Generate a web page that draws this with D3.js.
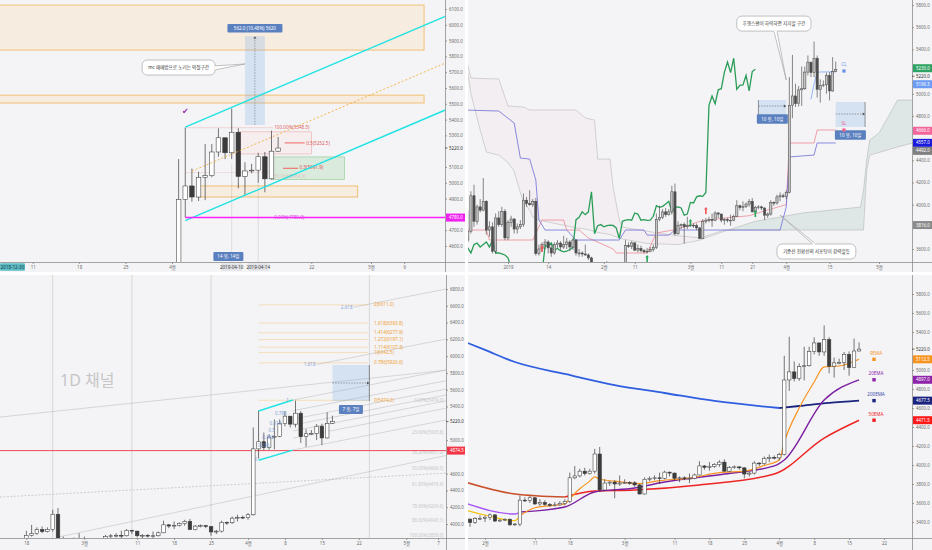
<!DOCTYPE html>
<html>
<head>
<meta charset="utf-8">
<title>BTC 4 panels</title>
<script src="https://cdn.jsdelivr.net/npm/d3@7/dist/d3.min.js"></script>
<style>
  html, body { margin: 0; padding: 0; background: #ffffff; }
  svg { display: block; }
</style>
</head>
<body>
<svg id="chart" width="932" height="550"></svg>
<script>
// daily candles, [open, high, low, close], one row per day from the block start
var dec2018 = [
  [3680,3950,3660,3760],[3760,4120,3740,4080],[4080,4180,3800,3850],[3850,4000,3820,3980],
  [3980,4050,3930,3950],[3950,4240,3940,4030],[4030,4040,3730,3770],[3770,3850,3710,3800],
  [3800,3840,3560,3580],[3580,3920,3560,3880],[3880,3940,3800,3820],[3820,3980,3800,3940],
  [3940,3960,3680,3700]
];
var jan2019 = [
  [3700,3860,3680,3840],[3840,3900,3800,3870],[3870,3880,3740,3780],[3780,3830,3740,3800],
  [3800,3860,3780,3820],[3820,4100,3800,4040],[4040,4070,3980,4010],[4010,4130,3990,4000],
  [4000,4050,3980,4030],[4030,4060,3540,3560],[3560,3640,3540,3600],[3600,3660,3580,3640],
  [3640,3690,3600,3663],[3663,3680,3560,3610],[3610,3640,3530,3564],[3564,3660,3550,3640],
  [3640,3680,3610,3654],[3654,3670,3590,3618],[3618,3720,3600,3640],[3640,3700,3600,3663],
  [3663,3680,3580,3618],[3618,3700,3590,3681],[3681,3690,3540,3564],[3564,3600,3530,3564],
  [3564,3580,3530,3555],[3555,3640,3540,3546],[3546,3560,3500,3520],[3520,3530,3400,3430],
  [3430,3440,3350,3395],[3395,3450,3380,3435],[3435,3470,3420,3438]
];
var feb2019 = [
  [3438,3470,3400,3450],[3450,3490,3420,3475],[3475,3480,3400,3410],[3410,3430,3400,3420],
  [3420,3440,3410,3428],[3428,3440,3360,3370],[3370,3390,3360,3378],[3378,3680,3355,3630],
  [3630,3660,3610,3625],[3625,3670,3600,3655],[3655,3660,3580,3590],[3590,3640,3570,3605],
  [3605,3630,3570,3585],[3585,3600,3560,3575],[3575,3610,3560,3580],[3580,3620,3570,3595],
  [3595,3640,3575,3615],[3615,3920,3600,3865],[3865,3990,3850,3885],[3885,3960,3870,3935],
  [3935,3970,3890,3910],[3910,3960,3900,3935],[3935,4170,3910,4116],[4116,4190,3720,3737],
  [3737,3850,3730,3810],[3810,3830,3780,3820],[3820,3840,3650,3800],[3800,3890,3780,3810]
];
var mar2019 = [
  [3810,3850,3800,3815],[3815,3830,3790,3812],[3812,3830,3770,3790],[3790,3800,3690,3695],
  [3695,3870,3690,3850],[3850,3880,3830,3860],[3860,3890,3840,3865],[3865,3920,3800,3860],
  [3860,3940,3850,3925],[3925,3930,3880,3915],[3915,3920,3840,3860],[3860,3880,3820,3865],
  [3865,3880,3840,3858],[3858,3910,3810,3860],[3860,3910,3850,3895],[3895,4040,3890,3990],
  [3990,4000,3950,3975],[3975,4030,3940,3985],[3985,4020,3970,4005],[4005,4050,3980,4030],
  [4030,4060,3930,3935],[3935,3990,3925,3975],[3975,3995,3960,3980],[3980,3990,3950,3970],
  [3970,3975,3860,3905],[3905,3930,3880,3915],[3915,4040,3900,4020],[4020,4030,3990,4015],
  [4015,4090,4000,4070],[4070,4110,4030,4080],[4080,4100,4060,4075]
];
var apr2019 = [
  [4075,4130,4050,4110],[4110,5150,4100,4895],[4895,5350,4780,4980],[4980,5090,4880,4910],
  [4910,5070,4885,5035],[5035,5245,4890,5045],[5045,5245,5035,5195],[5195,5345,5165,5285],
  [5285,5285,5150,5190],[5190,5470,5150,5320],[5320,5345,4965,5040],[5040,5130,4920,5075],
  [5075,5120,5060,5080],[5080,5190,5000,5165],[5165,5195,4940,5025],[5025,5330,5020,5200],
  [5200,5290,5195,5220]
];
var candleBlocks = [["2018-12-19", dec2018], ["2019-01-01", jan2019], ["2019-02-01", feb2019],
                    ["2019-03-01", mar2019], ["2019-04-01", apr2019]];

// price axis ticks and last-value tags
var tlPriceTicks = [4600,4700,4800,4900,5000,5100,5200,5300,5400,5500,5600,5700,5800,5900,6000,6100];
var trPriceTicks = [3600,3800,4000,4200,4400,4600,4800,5000,5200,5400,5600,5800];
var blPriceTicks = [4000,4200,4400,4600,4800,5000,5200,5400,5600,5800,6000,6200,6400,6600,6800];
var brPriceTicks = [3400,3600,3800,4000,4200,4400,4600,4800,5000,5200,5400,5600,5800];
var tlTagValues = [5220, 4780];
var trTagValues = [5230, 5220, 5196.5, 4666, 4557, 4492, 3816];
var blTagValues = [5220, 4874.5];
var brTagValues = [5220, 5112.5, 4897, 4677.5, 4471.5];

// time axis ticks
var tlTimeTicks = ["2019-03-11","2019-03-18","2019-03-25","2019-04-01","2019-04-22","2019-05-01","2019-05-06"];
var tlTimeLabels = ["11","18","25","4월","22","5월","6"];
var trTimeTicks = ["2019-01-01","2019-01-14","2019-02-01","2019-02-11","2019-03-01","2019-03-11","2019-03-21","2019-04-01","2019-04-15","2019-05-01"];
var trTimeLabels = ["2019","14","2월","11","3월","11","21","4월","15","5월"];
var blTimeTicks = ["2019-02-18","2019-03-01","2019-03-11","2019-03-18","2019-03-25","2019-04-01","2019-04-08","2019-04-15","2019-04-22","2019-05-01","2019-05-07"];
var blTimeLabels = ["18","3월","11","18","25","4월","8","15","22","5월","7"];
var brTimeTicks = ["2019-02-01","2019-02-11","2019-02-18","2019-03-01","2019-03-11","2019-03-18","2019-03-25","2019-04-01","2019-04-08","2019-04-15","2019-04-22"];
var brTimeLabels = ["2월","11","18","3월","11","18","25","4월","8","15","22"];

// top-left drawings
var tlZones = [["2019-02-20","2019-05-09",5840,6125],["2019-02-20","2019-05-09",5505,5555],["2019-04-05","2019-04-29",4910,4980]];
var tlChannelUpper = [["2019-04-03",5353],["2019-05-13",6068]];
var tlChannelLower = [["2019-04-03",4760],["2019-05-13",5475]];
var tlMedian = [["2019-04-04",5074],["2019-05-13",5772]];
var tlFib = [5348.5, 5064.3, 4780.0];
var tlFibLabels = ["100.00%(5348.5)", "50.00%(5064.3)", "0.00%(4780.0)"];
var tlRedZone = ["2019-04-11","2019-04-22",5182.5,5322.5];
var tlGreenZone = ["2019-04-16","2019-04-27",5020,5163.8];
var tlMeasure = ["2019-04-12","2019-04-15",5366,5928];

// top-right ichimoku, days counted from 2019-01-01
var cloudDays = [-14,-12,-9,-7,-3,0,2,4,5,7,8,10,22,25,28,29,33,34,36,37,45,55,62,70,80,88,95,114,115,116,117,120,126,131];
var spanA = [5360,5000,4673,4474,4447,4380,4300,4105,4024,3950,3888,3861,3790,3780,3760,3750,3730,3720,3700,3690,3650,3640,3680,3760,3850,3888,3924,3978,4132,4400,4583,4646,4943,4943];
var spanB = [5376,5142,5138,5136,5133,4889,4885,4882,4880,4853,4853,4853,4853,4781,4763,4411,4411,4159,3861,3798,3760,3720,3700,3770,3771,3771,3771,3771,3771,4300,4447,4470,4520,4556];
var tenkan = [[-14,3771],[-7,3771],[-6,3681],[8,3681],[11,3861],[18,3861],[19,3771],[23,3771],[26,3700],[34,3600],[35,3564],[45,3564],[48,3744],[55,3780],[62,3850],[70,3880],[78,3900],[85,3960],[90,4000],[91,4556],[99,4556],[100,4673],[106,4673]];
var kijun = [[-14,4853],[-3,4844],[2,4736],[4,4420],[7,4411],[9,4222],[10,3861],[12,3771],[19,3771],[22,3681],[36,3681],[38,3771],[44,3771],[45,3725],[52,3725],[54,3771],[88,3771],[90,3980],[91,4430],[99,4447],[100,4556],[106,4556]];
var stopLine = [[98,4950],[99,5090],[100,5190],[101,5196.5],[106,5196.5]];
var trSignals = [["2019-01-12",3609,"sell"],["2019-02-15",3519,"buy"],["2019-03-01",3843,"buy"],["2019-03-06",3951,"sell"],["2019-03-22",3924,"buy"]];
var trMeasures = [["2019-03-23","2019-04-01",4781,4943,4889],["2019-04-17","2019-04-26 12",4700,4925,4817]];

// bottom-left drawings
var blVLines = ["2019-02-23","2019-03-10","2019-03-25","2019-04-24"];
var blGrayLines = [[["2019-02-13",5274],["2019-05-09",5835]], [["2019-02-24",3844],["2019-05-09",4822]]];
var blDottedLine = [["2019-02-13",4321],["2019-05-09",4607]];
var blCyanUpper = [["2019-04-03",5346],["2019-04-09 12",5477]];
var blCyanLower = [["2019-04-03",4760],["2019-04-09 12",4881]];
var blChLower = [["2019-04-09 12",4881],["2019-05-08 12",5239]];
var blChUpper = [["2019-04-09 12",5477],["2019-05-08 12",5835]];
var blChLevels = [0, 0.236, 0.382, 0.5, 0.618, 0.786, 1, 1.618, 2.618];
var blChStarts = ["2019-04-09 12","2019-04-09 12","2019-04-09 12","2019-04-09 12","2019-04-09 12","2019-04-09 12","2019-04-09 12","2019-04-14","2019-04-21"];
var blExtLevels = ["0","0.786","1","1.114","1.272","1.414","1.618","2"];
var blExtPrices = [5474.0, 5920.6, 6042.5, 6107.3, 6197.1, 6277.9, 6393.8, 6611.0];
var blRetLabels = ["0.00%(5474.0)","23.60%(5093.8)","38.20%(4857.2)","50.00%(4666.5)","61.80%(4476.9)","78.60%(4204.6)","88.60%(4043.1)","100.00%(3859.0)"];
var blRetPrices = [5474.0, 5093.8, 4857.2, 4666.5, 4476.9, 4204.6, 4043.1, 3859.0];
var blMeasure = ["2019-04-17","2019-04-24",5465,5894,5680];

// bottom-right moving averages
var ema200 = [["2019-01-28",5295],["2019-02-01",5211],["2019-02-07",5084],["2019-02-17",4958],["2019-02-27",4842],["2019-03-09",4758],["2019-03-19",4674],["2019-04-01",4600],["2019-04-05",4621],["2019-04-11",4653],["2019-04-17",4677.5]];
var ema50 = [["2019-01-28",3821],["2019-02-07",3695],["2019-02-17",3663],["2019-02-23",3726],["2019-03-03",3737],["2019-03-16",3790],["2019-03-31",3905],["2019-04-10",4284],["2019-04-17",4471.5]];
var ema20 = [["2019-01-28",3600],["2019-02-07",3484],["2019-02-08",3505],["2019-02-17",3558],["2019-02-23",3716],["2019-03-03",3758],["2019-03-09",3821],["2019-03-21",3905],["2019-03-31",3990],["2019-04-02",4053],["2019-04-10",4684],["2019-04-17",4897]];
var ema9 = [["2019-01-28",3526],["2019-02-01",3474],["2019-02-07",3415],["2019-02-08",3465],["2019-02-11",3550],["2019-02-17",3590],["2019-02-18",3645],["2019-02-20",3750],["2019-02-22",3830],["2019-02-23",3874],["2019-02-24",3850],["2019-02-27",3830],["2019-03-04",3805],["2019-03-08",3835],["2019-03-14",3862],["2019-03-20",3920],["2019-03-25",3935],["2019-03-29",3995],["2019-04-01",4053],["2019-04-02",4240],["2019-04-05",4600],["2019-04-08",4874],["2019-04-10",5032],["2019-04-13",5042],["2019-04-17",5112.5]];
var emaNames = ["9EMA","20EMA","200EMA","50EMA"];
var emaLast = [5112.5, 4897, 4677.5, 4471.5];

var FONT = '"Noto Sans","Noto Sans CJK KR","DejaVu Sans",sans-serif';
var BG = "#f4f4f6";
var parseD = d3.timeParse("%Y-%m-%d"), parseH = d3.timeParse("%Y-%m-%d %H");
function dt(s) { return s.length > 10 ? parseH(s) : parseD(s); }
var fmt1 = d3.format(".1f");
var ichiBase = dt("2019-01-01");
function dayOf(n) { return d3.timeDay.offset(ichiBase, n); }

var candles = [];
candleBlocks.forEach(function (b) {
  var start = dt(b[0]);
  b[1].forEach(function (r, i) {
    candles.push({ date: d3.timeDay.offset(start, i), o: r[0], h: r[1], l: r[2], c: r[3] });
  });
});
// lagging span: close plotted 26 bars back
var chikou = candles.map(function (d) { return { date: d3.timeDay.offset(d.date, -26), v: d.c }; });

var svg = d3.select("#chart");
var defs = svg.append("defs");

function makePanel(c) {
  var g = svg.append("g");
  g.append("rect").attr("x", c.x0).attr("y", c.y0).attr("width", c.x1 - c.x0).attr("height", c.y1 - c.y0).attr("fill", BG);
  defs.append("clipPath").attr("id", c.id).append("rect")
    .attr("x", c.x0).attr("y", c.y0).attr("width", c.plotR - c.x0).attr("height", c.plotB - c.y0);
  var plot = g.append("g").attr("clip-path", "url(#" + c.id + ")");
  return { c: c, g: g, plot: plot,
    x: d3.scaleTime().domain(c.xd.map(dt)).range(c.xr),
    y: d3.scaleLinear().domain(c.yd).range(c.yr) };
}

function rectDP(p, d1, d2, v1, v2, fill, stroke, sw) {
  var xa = p.x(dt(d1)), xb = p.x(dt(d2)), ya = p.y(Math.max(v1, v2)), yb = p.y(Math.min(v1, v2));
  return p.plot.append("rect").attr("x", xa).attr("y", ya).attr("width", xb - xa).attr("height", yb - ya)
    .attr("fill", fill).attr("stroke", stroke || "none").attr("stroke-width", sw || 0.7);
}
function lineDP(p, a, b, stroke, sw, dash) {
  var l = p.plot.append("line").attr("x1", p.x(dt(a[0]))).attr("y1", p.y(a[1]))
    .attr("x2", p.x(dt(b[0]))).attr("y2", p.y(b[1])).attr("stroke", stroke).attr("stroke-width", sw);
  if (dash) l.attr("stroke-dasharray", dash);
  return l;
}
function textAt(layer, x, y, s, size, fill, anchor) {
  return layer.append("text").attr("x", x).attr("y", y).attr("dy", "0.35em").attr("font-size", size)
    .attr("font-family", FONT).attr("fill", fill).attr("text-anchor", anchor || "start").text(s);
}
function tagBox(layer, cx, cy, w, h, s, bg, fg) {
  layer.append("rect").attr("x", cx - w / 2).attr("y", cy - h / 2).attr("width", w).attr("height", h).attr("rx", 1).attr("fill", bg);
  textAt(layer, cx, cy, s, 4.5, fg || "#fff", "middle");
}
function arrowHead(layer, x, y, dir) {
  var d = dir === "up" ? "M" + (x - 1.6) + "," + (y + 2.4) + "L" + x + "," + y + "L" + (x + 1.6) + "," + (y + 2.4) + "Z"
                       : "M" + (x - 2.4) + "," + (y - 1.6) + "L" + x + "," + y + "L" + (x - 2.4) + "," + (y + 1.6) + "Z";
  layer.append("path").attr("d", d).attr("fill", "#555");
}
function callout(p, s, bx, base, tip) {
  var x1 = p.x(dt(bx[0])), x2 = p.x(dt(bx[1])), y1 = p.y(bx[2]), y2 = p.y(bx[3]);
  var b1 = [p.x(dt(base[0][0])), p.y(base[0][1])], b2 = [p.x(dt(base[1][0])), p.y(base[1][1])];
  var t = [p.x(dt(tip[0])), p.y(tip[1])];
  var g = p.plot.append("g");
  g.append("rect").attr("x", x1).attr("y", y1).attr("width", x2 - x1).attr("height", y2 - y1).attr("rx", 5)
    .attr("fill", "#fff").attr("stroke", "#9a9a9a").attr("stroke-width", 0.6);
  g.append("path").attr("d", "M" + b1 + "L" + t + "L" + b2).attr("fill", "#fff").attr("stroke", "#9a9a9a").attr("stroke-width", 0.6);
  g.append("line").attr("x1", b1[0]).attr("y1", b1[1]).attr("x2", b2[0]).attr("y2", b2[1]).attr("stroke", "#fff").attr("stroke-width", 1.2);
  textAt(g, (x1 + x2) / 2, (y1 + y2) / 2, s, 4.6, "#333", "middle");
}
function drawCandles(p, data, w, st) {
  var k = p.plot.append("g").selectAll("g").data(data).join("g");
  k.append("line").attr("x1", function (d) { return p.x(d.date); }).attr("x2", function (d) { return p.x(d.date); })
    .attr("y1", function (d) { return p.y(d.h); }).attr("y2", function (d) { return p.y(d.l); })
    .attr("stroke", st.wick).attr("stroke-width", 0.7);
  k.append("rect").attr("x", function (d) { return p.x(d.date) - w / 2; })
    .attr("y", function (d) { return p.y(Math.max(d.o, d.c)); }).attr("width", w)
    .attr("height", function (d) { return Math.max(0.8, Math.abs(p.y(d.o) - p.y(d.c))); })
    .attr("fill", function (d) { return d.c >= d.o ? st.up : st.down; })
    .attr("stroke", st.edge).attr("stroke-width", 0.55);
}
function styleAxis(ax, size) {
  ax.attr("font-size", size).attr("font-family", FONT);
  ax.select(".domain").remove();
  ax.selectAll(".tick line").attr("stroke", "#9b9b9b");
  ax.selectAll(".tick text").attr("fill", "#6b6b6b");
}
function finishAxes(p, ticks, tagValues, tagColors, tDates, tLabels) {
  var c = p.c;
  var placed = tagValues.map(function (v, i) { return { v: v, bg: tagColors[i], y: p.y(v) }; })
    .sort(function (a, b) { return a.y - b.y; });
  for (var i = 1; i < placed.length; i++) {
    if (placed[i].y < placed[i - 1].y + 8) placed[i].y = placed[i - 1].y + 8;
  }
  var shown = ticks.filter(function (v) {
    return placed.every(function (q) { return Math.abs(p.y(v) - q.y) > 6.5; });
  });
  var ay = p.g.append("g").attr("transform", "translate(" + c.plotR + ",0)")
    .call(d3.axisRight(p.y).tickValues(shown).tickFormat(fmt1).tickSize(2).tickPadding(2));
  styleAxis(ay, 4.4);
  var ax = p.g.append("g").attr("transform", "translate(0," + c.plotB + ")")
    .call(d3.axisBottom(p.x).tickValues(tDates.map(dt)).tickFormat(function (d, i) { return tLabels[i]; }).tickSize(2).tickPadding(1.5));
  styleAxis(ax, 4.4);
  p.g.append("line").attr("x1", c.plotR + 0.5).attr("x2", c.plotR + 0.5).attr("y1", c.y0).attr("y2", c.y1)
    .attr("stroke", "#8d8d8d").attr("stroke-width", 0.8);
  p.g.append("line").attr("x1", c.x0).attr("x2", c.x1).attr("y1", c.plotB + 0.5).attr("y2", c.plotB + 0.5)
    .attr("stroke", "#8d8d8d").attr("stroke-width", 0.8);
  placed.forEach(function (q) {
    if (q.bg) {
      p.g.append("rect").attr("x", c.plotR + 1).attr("y", q.y - 4).attr("width", c.x1 - c.plotR - 1).attr("height", 8).attr("fill", q.bg);
      textAt(p.g, c.plotR + 4, q.y, fmt1(q.v), 4.4, "#fff");
    } else {
      p.g.append("line").attr("x1", c.plotR).attr("x2", c.plotR + 2.5).attr("y1", q.y).attr("y2", q.y).attr("stroke", "#333").attr("stroke-width", 0.7);
      textAt(p.g, c.plotR + 4, q.y, fmt1(q.v), 4.4, "#333");
    }
  });
}
function splitLine(p, pts, split, c1, c2, w) {
  var line = d3.line().x(function (d) { return p.x(dt(d[0])); }).y(function (d) { return p.y(d[1]); }).curve(d3.curveMonotoneX);
  var s = dt(split), idx = pts.findIndex(function (d) { return dt(d[0]) >= s; });
  p.plot.append("path").attr("d", line(pts.slice(0, idx + 1))).attr("fill", "none").attr("stroke", c1).attr("stroke-width", w);
  p.plot.append("path").attr("d", line(pts.slice(idx))).attr("fill", "none").attr("stroke", c2).attr("stroke-width", w);
}

var plainCandle = { up: "#ffffff", down: "#3b3b3b", edge: "#3b3b3b", wick: "#3b3b3b" };

// ---------------- top left : 4/3 channel ----------------
var tl = makePanel({ id: "clipTL", x0: 0, y0: 0, plotR: 445, plotB: 262, x1: 465, y1: 272,
  xd: ["2019-04-01", "2019-05-01"], xr: [172, 371], yd: [4600, 6100], yr: [246, 9] });

tlZones.forEach(function (z) { rectDP(tl, z[0], z[1], z[2], z[3], "rgba(255,206,135,0.2)", "rgba(240,160,40,0.75)", 0.8); });
lineDP(tl, ["2019-04-03", tlFib[0]], ["2019-04-16 06", tlFib[0]], "rgba(229,115,115,0.45)", 0.6);
lineDP(tl, ["2019-04-03", tlFib[1]], ["2019-04-16 06", tlFib[1]], "rgba(229,115,115,0.3)", 0.6);
rectDP(tl, tlRedZone[0], tlRedZone[1], tlRedZone[2], tlRedZone[3], "rgba(255,205,210,0.18)", "rgba(229,115,115,0.55)", 0.6);
rectDP(tl, tlGreenZone[0], tlGreenZone[1], tlGreenZone[2], tlGreenZone[3], "rgba(129,199,132,0.22)", "rgba(102,187,106,0.7)", 0.6);
var redMid = (tlRedZone[2] + tlRedZone[3]) / 2, greenMid = (tlGreenZone[2] + tlGreenZone[3]) / 2;
lineDP(tl, ["2019-04-18", redMid], ["2019-04-21", redMid], "#ef5350", 0.9);
textAt(tl.plot, tl.x(dt("2019-04-21")) + 1.5, tl.y(redMid), "0.5(" + fmt1(redMid) + ")", 4.6, "#e05555");
lineDP(tl, ["2019-04-17 18", greenMid], ["2019-04-20", greenMid], "#ef5350", 0.9);
textAt(tl.plot, tl.x(dt("2019-04-20")) + 1.5, tl.y(greenMid) - 1, "0.5(" + fmt1(greenMid) + ")", 4.6, "#e05555");

// measure box
rectDP(tl, tlMeasure[0], tlMeasure[1], tlMeasure[2], tlMeasure[3], "rgba(120,170,230,0.25)");
var tmx = (tl.x(dt(tlMeasure[0])) + tl.x(dt(tlMeasure[1]))) / 2;
tl.plot.append("line").attr("x1", tmx).attr("x2", tmx).attr("y1", tl.y(tlMeasure[2])).attr("y2", tl.y(tlMeasure[3]) + 1)
  .attr("stroke", "#777").attr("stroke-width", 0.6).attr("stroke-dasharray", "1.5,1.2");
arrowHead(tl.plot, tmx, tl.y(tlMeasure[3]), "up");
tagBox(tl.plot, tmx, tl.y(tlMeasure[3]) - 8, 55, 8.5, "562.0 (10.48%) 5620", "#5b80bf");

callout(tl, "mc 매매법으로 노리는 익절구간", ["2019-03-27 12", "2019-04-07 12", 5777, 5682],
  [["2019-04-07 12", 5740], ["2019-04-07 12", 5715]], ["2019-04-12", 5752]);

drawCandles(tl, candles, 4.6, plainCandle);

tl.plot.append("line").attr("x1", tl.x(dt("2019-04-10"))).attr("x2", tl.x(dt("2019-04-10"))).attr("y1", tl.y(5120)).attr("y2", 262)
  .attr("stroke", "rgba(110,110,110,0.35)").attr("stroke-width", 0.5);
tl.plot.append("line").attr("x1", tl.x(dt("2019-04-14"))).attr("x2", tl.x(dt("2019-04-14"))).attr("y1", tl.y(5000)).attr("y2", 262)
  .attr("stroke", "rgba(110,110,110,0.35)").attr("stroke-width", 0.5);

lineDP(tl, tlChannelUpper[0], tlChannelUpper[1], "#21e3e3", 1.4);
lineDP(tl, tlChannelLower[0], tlChannelLower[1], "#21e3e3", 1.4);
lineDP(tl, tlMedian[0], tlMedian[1], "#f5a623", 0.8, "2,2");
lineDP(tl, ["2019-04-03", tlFib[2]], ["2019-06-01", tlFib[2]], "#ff1fff", 1.6);
textAt(tl.plot, tl.x(dt("2019-04-16 06")) + 1, tl.y(tlFib[0]), tlFibLabels[0], 4.6, "#e06666");
textAt(tl.plot, tl.x(dt("2019-04-16 06")) + 1, tl.y(tlFib[1]) + 4, tlFibLabels[1], 4.4, "rgba(224,102,102,0.35)");
textAt(tl.plot, tl.x(dt("2019-04-16 06")) + 1, tl.y(tlFib[2]), tlFibLabels[2], 4.6, "#e040e0");
textAt(tl.plot, tl.x(dt("2019-04-03")), tl.y(5455), "✔", 8, "#9c27b0", "middle");
tagBox(tl.plot, tl.x(dt("2019-04-09 12")), 256.5, 30, 9, "14 봉, 14일", "#5b80bf");

finishAxes(tl, tlPriceTicks, tlTagValues, [null, "#f020f0"], tlTimeTicks, tlTimeLabels);
tagBox(tl.g, tl.x(dt("2019-04-10")), 267, 21, 7.5, "2019-04-10", "#e2e3e8", "#333");
tagBox(tl.g, tl.x(dt("2019-04-14")), 267, 21, 7.5, "2019-04-14", "#e2e3e8", "#333");
tagBox(tl.g, 12.5, 267, 25, 7.5, "2018-12-30", "#5bbcc6", "#1f3d42");

// ---------------- top right : ichimoku ----------------
var tr = makePanel({ id: "clipTR", x0: 468, y0: 0, plotR: 912, plotB: 262, x1: 932, y1: 272,
  xd: ["2019-01-01", "2019-05-01"], xr: [508, 879], yd: [3600, 5800], yr: [249, 5] });

for (var ci = 0; ci < cloudDays.length - 1; ci++) {
  var xa = tr.x(dayOf(cloudDays[ci])), xb = tr.x(dayOf(cloudDays[ci + 1]));
  var bull = spanA[ci] + spanA[ci + 1] >= spanB[ci] + spanB[ci + 1];
  tr.plot.append("path")
    .attr("d", "M" + xa + "," + tr.y(spanA[ci]) + "L" + xb + "," + tr.y(spanA[ci + 1]) +
               "L" + xb + "," + tr.y(spanB[ci + 1]) + "L" + xa + "," + tr.y(spanB[ci]) + "Z")
    .attr("fill", bull ? "rgba(120,170,150,0.16)" : "rgba(240,160,175,0.06)");
}
var cloudLine = d3.line().x(function (d, i) { return tr.x(dayOf(cloudDays[i])); }).y(function (d) { return tr.y(d); });
tr.plot.append("path").attr("d", cloudLine(spanA)).attr("fill", "none").attr("stroke", "rgba(140,150,145,0.6)").attr("stroke-width", 0.6);
tr.plot.append("path").attr("d", cloudLine(spanB)).attr("fill", "none").attr("stroke", "rgba(150,145,145,0.6)").attr("stroke-width", 0.6);
var dayLine = d3.line().x(function (d) { return tr.x(dayOf(d[0])); }).y(function (d) { return tr.y(d[1]); });
tr.plot.append("path").attr("d", dayLine(tenkan)).attr("fill", "none").attr("stroke", "#ec7a86").attr("stroke-width", 0.7);
tr.plot.append("path").attr("d", dayLine(kijun)).attr("fill", "none").attr("stroke", "#6f6fd8").attr("stroke-width", 0.8);
tr.plot.append("path").attr("d", dayLine(stopLine)).attr("fill", "none").attr("stroke", "#6b9bf2").attr("stroke-width", 0.7);
tr.plot.append("path").attr("d", d3.line().x(function (d) { return tr.x(d.date); }).y(function (d) { return tr.y(d.v); })(chikou))
  .attr("fill", "none").attr("stroke", "#2a9d58").attr("stroke-width", 1.3);

drawCandles(tr, candles, 2.2, { up: "#c4c4c4", down: "#4d4d4d", edge: "#4d4d4d", wick: "#555" });

trSignals.forEach(function (s) {
  var sx = tr.x(dt(s[0])), sy = tr.y(s[1]), col = s[2] === "buy" ? "#26a65b" : "#ef5350";
  tr.plot.append("rect").attr("x", sx - 0.8).attr("y", sy - 1).attr("width", 1.6).attr("height", 5).attr("fill", col);
  tr.plot.append("path").attr("d", "M" + (sx - 1.8) + "," + (sy - 0.5) + "L" + sx + "," + (sy - 3) + "L" + (sx + 1.8) + "," + (sy - 0.5) + "Z").attr("fill", col);
});

trMeasures.forEach(function (m, i) {
  rectDP(tr, m[0], m[1], m[2], m[3], "rgba(120,170,230,0.25)");
  var xa = tr.x(dt(m[0])), xb = tr.x(dt(m[1])), ym = tr.y(m[4]);
  var edgeX = i === 0 ? xa : xb;
  tr.plot.append("line").attr("x1", edgeX).attr("x2", edgeX).attr("y1", tr.y(m[3])).attr("y2", tr.y(m[2])).attr("stroke", "#555").attr("stroke-width", 0.6);
  tr.plot.append("line").attr("x1", xa).attr("x2", xb - 1).attr("y1", ym).attr("y2", ym)
    .attr("stroke", "#666").attr("stroke-width", 0.6).attr("stroke-dasharray", "1.5,1.2");
  arrowHead(tr.plot, xb, ym, "right");
  tagBox(tr.plot, (xa + xb) / 2, tr.y(m[2]) + (i === 0 ? 1 : 8), 31, 9.5, "10 봉, 10일", "#5b80bf");
});

callout(tr, "후행스팬이 하락하면 지지할 구간", ["2019-03-16", "2019-04-09", 5700, 5565],
  [["2019-03-28", 5565], ["2019-03-29", 5565]], ["2019-04-01", 5124]);
callout(tr, "기준선 전환선의 서포팅이 강력할듯", ["2019-03-29", "2019-04-23 12", 3645, 3510],
  [["2019-04-09 12", 3645], ["2019-04-10 12", 3645]], ["2019-03-30", 3906]);

var clx = tr.x(dt("2019-04-19 16"));
textAt(tr.plot, clx, tr.y(5268), "CL", 4.6, "#6b8fe8", "middle");
tr.plot.append("rect").attr("x", clx - 1.6).attr("y", tr.y(5205) - 1.6).attr("width", 3.2).attr("height", 3.2).attr("fill", "#6b8fe8");
textAt(tr.plot, clx, tr.y(4735), "SL", 4.6, "#f06292", "middle");
tr.plot.append("rect").attr("x", clx - 1.6).attr("y", tr.y(4673) - 1.6).attr("width", 3.2).attr("height", 3.2).attr("fill", "#f06292");

finishAxes(tr, trPriceTicks, trTagValues, ["#2ea363", null, "#6b9bf2", "#f2669b", "#1a1adb", "#7f7f7f", "#8a8a8a"], trTimeTicks, trTimeLabels);

// ---------------- bottom left : 1D channel ----------------
var bl = makePanel({ id: "clipBL", x0: 0, y0: 275, plotR: 446, plotB: 538, x1: 465, y1: 550,
  xd: ["2019-04-01", "2019-05-07"], xr: [248, 438], yd: [4000, 6800], yr: [524, 289] });

blVLines.forEach(function (d) {
  bl.plot.append("line").attr("x1", bl.x(dt(d))).attr("x2", bl.x(dt(d))).attr("y1", 275).attr("y2", 538).attr("stroke", "#cfcfcf").attr("stroke-width", 0.8);
});
blGrayLines.forEach(function (l) { lineDP(bl, l[0], l[1], "rgba(150,150,150,0.55)", 0.6); });
lineDP(bl, blDottedLine[0], blDottedLine[1], "rgba(150,150,150,0.7)", 0.6, "2,1.5");

var chT0 = +dt(blChLower[0][0]), chT1 = +dt(blChLower[1][0]);
function chAt(t, lvl) {
  var f = (t - chT0) / (chT1 - chT0);
  var lo = blChLower[0][1] + f * (blChLower[1][1] - blChLower[0][1]);
  var hi = blChUpper[0][1] + f * (blChUpper[1][1] - blChUpper[0][1]);
  return lo + lvl * (hi - lo);
}
var chEnd = +dt("2019-05-12");
blChLevels.forEach(function (lvl, i) {
  var t0 = +dt(blChStarts[i]);
  bl.plot.append("line").attr("x1", bl.x(t0)).attr("y1", bl.y(chAt(t0, lvl))).attr("x2", bl.x(chEnd)).attr("y2", bl.y(chAt(chEnd, lvl)))
    .attr("stroke", "rgba(150,150,150,0.55)").attr("stroke-width", 0.6);
  if (lvl > 1) textAt(bl.plot, bl.x(t0) - 1, bl.y(chAt(t0, lvl)), String(lvl), 4.6, "#7f9fd8", "end");
});

blExtPrices.forEach(function (v, i) {
  lineDP(bl, ["2019-04-03", v], ["2019-04-23 18", v], "rgba(245,166,35,0.4)", 0.7);
  textAt(bl.plot, bl.x(dt("2019-04-23 18")) + 6, bl.y(v), blExtLevels[i] + "(" + fmt1(v) + ")", 4.6, "#f0a030");
});
blRetPrices.forEach(function (v, i) {
  textAt(bl.plot, bl.x(dt("2019-05-08")), bl.y(v), blRetLabels[i], 4.4, "#c6c6c6", "end");
});

lineDP(bl, ["2019-01-01", 4874.5], ["2019-06-01", 4874.5], "#f23645", 0.9);

rectDP(bl, blMeasure[0], blMeasure[1], blMeasure[2], blMeasure[3], "rgba(120,170,230,0.25)");
var bmx1 = bl.x(dt(blMeasure[0])), bmx2 = bl.x(dt(blMeasure[1])), bmy = bl.y(blMeasure[4]);
bl.plot.append("line").attr("x1", bmx2).attr("x2", bmx2).attr("y1", bl.y(blMeasure[3])).attr("y2", bl.y(blMeasure[2])).attr("stroke", "#555").attr("stroke-width", 0.6);
bl.plot.append("line").attr("x1", bmx1).attr("x2", bmx2 - 1).attr("y1", bmy).attr("y2", bmy).attr("stroke", "#666").attr("stroke-width", 0.6).attr("stroke-dasharray", "1.5,1.2");
arrowHead(bl.plot, bmx2, bmy, "right");
tagBox(bl.plot, (bmx1 + bmx2) / 2, bl.y(blMeasure[2]) + 8.5, 24, 9, "7 봉, 7일", "#5b80bf");

drawCandles(bl, candles, 3.6, plainCandle);

lineDP(bl, blCyanUpper[0], blCyanUpper[1], "#21e3e3", 1.4);
lineDP(bl, blCyanLower[0], blCyanLower[1], "#21e3e3", 1.4);
var cy0 = +dt(blCyanLower[0][0]), cy1 = +dt(blCyanLower[1][0]);
blChLevels.filter(function (l) { return l <= 1; }).forEach(function (lvl) {
  var t = d3.timeHour.offset(new Date(cy0), Math.round((-0.5 + lvl * 6) * 24));
  var f = (t - cy0) / (cy1 - cy0);
  var lo = blCyanLower[0][1] + f * (blCyanLower[1][1] - blCyanLower[0][1]);
  var hi = blCyanUpper[0][1] + f * (blCyanUpper[1][1] - blCyanUpper[0][1]);
  textAt(bl.plot, bl.x(t), bl.y(lo + lvl * (hi - lo)) - 1.5, String(lvl), 4.6, "#7f9fd8", "middle");
});
textAt(bl.g, 60, 380, "1D 채널", 16, "#c6c6c6");

finishAxes(bl, blPriceTicks, blTagValues, [null, "#f23645"], blTimeTicks, blTimeLabels);

// ---------------- bottom right : EMAs ----------------
var br = makePanel({ id: "clipBR", x0: 468, y0: 275, plotR: 912, plotB: 538, x1: 932, y1: 550,
  xd: ["2019-02-01", "2019-04-22"], xr: [485, 884], yd: [3400, 5800], yr: [522, 294] });

splitLine(br, ema200, "2019-04-01", "#2f5fe0", "#1a237e", 1.8);
splitLine(br, ema50, "2019-02-17", "#c8502a", "#ee2424", 1.5);
splitLine(br, ema20, "2019-02-08", "#a855f7", "#7b1fa2", 1.4);
splitLine(br, ema9, "2019-02-08", "#f4c20d", "#f7931e", 1.2);

drawCandles(br, candles, 3.4, plainCandle);

var emaColors = ["#f7931e", "#8e24aa", "#1a237e", "#f21d1d"];
var emaTextColors = ["#f7931e", "#8e24aa", "#3949ab", "#f21d1d"];
var lx = br.x(dt("2019-04-20"));
emaNames.forEach(function (n, i) {
  var ly = br.y(emaLast[i]);
  br.plot.append("rect").attr("x", lx - 1.7).attr("y", ly - 1.7).attr("width", 3.4).attr("height", 3.4).attr("fill", emaColors[i]);
  textAt(br.plot, lx + 2, ly - 6, n, 4.6, emaTextColors[i], "middle");
});

finishAxes(br, brPriceTicks, brTagValues, [null, "#f7931e", "#8e24aa", "#1a237e", "#ff1a1a"], brTimeTicks, brTimeLabels);
</script>
</body>
</html>
